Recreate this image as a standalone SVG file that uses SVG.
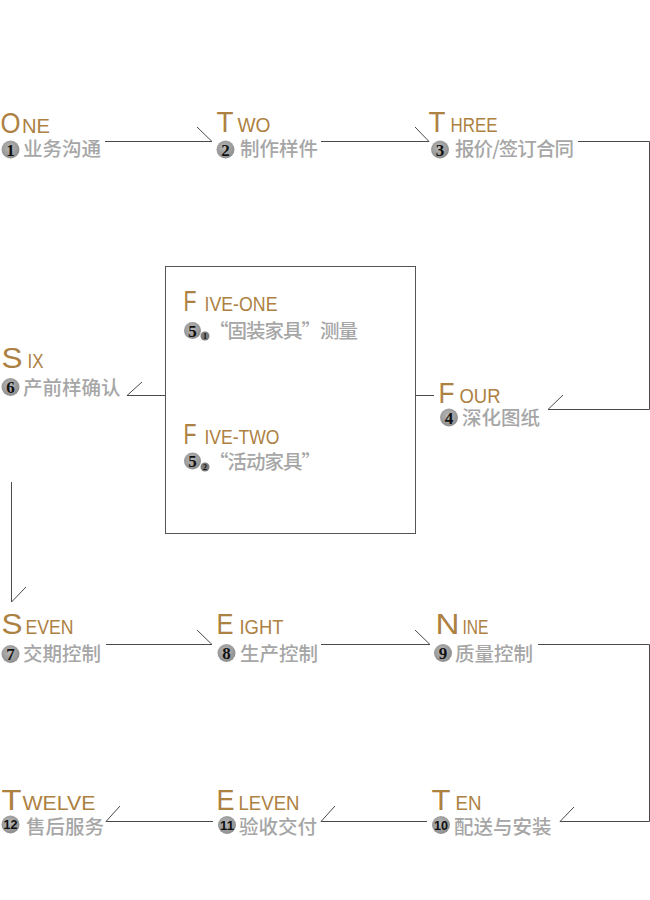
<svg xmlns="http://www.w3.org/2000/svg" width="650" height="900" viewBox="0 0 650 900">
<style>
.big{font-family:"Liberation Sans",Arial,sans-serif;font-size:29px;fill:#ad8142}
.sm{font-family:"Liberation Sans",Arial,sans-serif;font-size:21px;fill:#ad8142}
.cn{font-family:"Noto Sans CJK SC","Noto Sans CJK TC",sans-serif;font-size:19.5px;font-weight:500;fill:#a6a6a6}
.badge{fill:url(#bg)}
.sub{fill:#7c7c7c}
.num{font-family:"Liberation Serif",serif;font-weight:bold;font-size:17px;fill:#111;text-anchor:middle}
.num2{font-family:"Liberation Sans",Arial,sans-serif;font-weight:bold;font-size:12px;fill:#111;text-anchor:middle}
.num3{font-family:"Liberation Serif",serif;font-weight:bold;font-size:8px;fill:#111;text-anchor:middle}
.conn{fill:none;stroke:#4a4a4a;stroke-width:1}
.box{fill:#fff;stroke:#555;stroke-width:1}
</style>
<defs>
<radialGradient id="bg" cx="0.45" cy="0.4" r="0.6">
<stop offset="0" stop-color="#b8b8b8"/>
<stop offset="1" stop-color="#8e8e8e"/>
</radialGradient>
</defs>
<rect width="650" height="900" fill="#fff"/>
<rect class="box" x="165.5" y="266.5" width="250" height="267"/>
<g id="connectors">
<path class="conn" d="M105 141.5 H212 L197 127"/>
<path class="conn" d="M321 141.5 H429 L415 127"/>
<path class="conn" d="M578 141.5 H649.5 V409.5 H548 L563 395"/>
<path class="conn" d="M415 395.5 H434"/>
<path class="conn" d="M165 395.5 H127 L142 382"/>
<path class="conn" d="M11.5 482 V602 L26 587"/>
<path class="conn" d="M106 644.5 H212 L197 630"/>
<path class="conn" d="M321 644.5 H430 L415 630"/>
<path class="conn" d="M538 644.5 H649.5 V821.5 H560 L574 807"/>
<path class="conn" d="M427 821.5 H321 L335 806"/>
<path class="conn" d="M213 821.5 H106 L120 806"/>
</g>
<g id="n1">
<text class="big" x="0.5" y="133" textLength="20" lengthAdjust="spacingAndGlyphs">O</text>
<text class="sm" x="22" y="133" textLength="28" lengthAdjust="spacingAndGlyphs">NE</text>
<circle class="badge" cx="10.5" cy="149.5" r="9"/>
<text class="num" x="10.5" y="155.5">1</text>
<text class="cn" x="23" y="156">业务沟通</text>
</g>
<g id="n2">
<text class="big" x="216.5" y="132" textLength="17" lengthAdjust="spacingAndGlyphs">T</text>
<text class="sm" x="237.5" y="132" textLength="33" lengthAdjust="spacingAndGlyphs">WO</text>
<circle class="badge" cx="225.5" cy="149.5" r="9"/>
<text class="num" x="225.5" y="155.5">2</text>
<text class="cn" x="240" y="156">制作样件</text>
</g>
<g id="n3">
<text class="big" x="428.5" y="132" textLength="17" lengthAdjust="spacingAndGlyphs">T</text>
<text class="sm" x="450.5" y="132" textLength="47" lengthAdjust="spacingAndGlyphs">HREE</text>
<circle class="badge" cx="440" cy="149.5" r="9"/>
<text class="num" x="440" y="155.5">3</text>
<text class="cn" x="455" y="156" textLength="119" lengthAdjust="spacing">报价/签订合同</text>
</g>
<g id="n4">
<text class="big" x="438.5" y="403" textLength="16" lengthAdjust="spacingAndGlyphs">F</text>
<text class="sm" x="459.5" y="403" textLength="41" lengthAdjust="spacingAndGlyphs">OUR</text>
<circle class="badge" cx="449" cy="417.5" r="9"/>
<text class="num" x="449" y="423.5">4</text>
<text class="cn" x="462" y="425">深化图纸</text>
</g>
<g id="n5-1">
<text class="big" x="183.5" y="311" textLength="13" lengthAdjust="spacingAndGlyphs">F</text>
<text class="sm" x="204.5" y="311" textLength="73" lengthAdjust="spacingAndGlyphs">IVE-ONE</text>
<circle class="badge" cx="192.5" cy="330.5" r="8.5"/>
<text class="num" x="192.5" y="336.5">5</text>
<circle class="sub" cx="205" cy="336" r="4.5"/>
<text class="num3" x="205" y="339">1</text>
<text class="cn" x="209" y="338" textLength="149" lengthAdjust="spacing">“固装家具”测量</text>
</g>
<g id="n5-2">
<text class="big" x="183.5" y="444" textLength="13" lengthAdjust="spacingAndGlyphs">F</text>
<text class="sm" x="204.5" y="444" textLength="75" lengthAdjust="spacingAndGlyphs">IVE-TWO</text>
<circle class="badge" cx="192.5" cy="461" r="8.5"/>
<text class="num" x="192.5" y="467">5</text>
<circle class="sub" cx="205" cy="467" r="4.5"/>
<text class="num3" x="205" y="470">2</text>
<text class="cn" x="209" y="469" textLength="112" lengthAdjust="spacing">“活动家具”</text>
</g>
<g id="n6">
<text class="big" x="1.5" y="368" textLength="21" lengthAdjust="spacingAndGlyphs">S</text>
<text class="sm" x="27.5" y="368" textLength="16" lengthAdjust="spacingAndGlyphs">IX</text>
<circle class="badge" cx="10.5" cy="387" r="9"/>
<text class="num" x="10.5" y="393">6</text>
<text class="cn" x="23" y="395">产前样确认</text>
</g>
<g id="n7">
<text class="big" x="1.5" y="634" textLength="21" lengthAdjust="spacingAndGlyphs">S</text>
<text class="sm" x="25.5" y="634" textLength="48" lengthAdjust="spacingAndGlyphs">EVEN</text>
<circle class="badge" cx="10.5" cy="654" r="9"/>
<text class="num" x="10.5" y="660">7</text>
<text class="cn" x="23" y="661">交期控制</text>
</g>
<g id="n8">
<text class="big" x="216.5" y="634" textLength="17" lengthAdjust="spacingAndGlyphs">E</text>
<text class="sm" x="239.5" y="634" textLength="44" lengthAdjust="spacingAndGlyphs">IGHT</text>
<circle class="badge" cx="226.5" cy="653" r="9"/>
<text class="num" x="226.5" y="659">8</text>
<text class="cn" x="240" y="661">生产控制</text>
</g>
<g id="n9">
<text class="big" x="435.5" y="634" textLength="24" lengthAdjust="spacingAndGlyphs">N</text>
<text class="sm" x="462.5" y="634" textLength="26" lengthAdjust="spacingAndGlyphs">INE</text>
<circle class="badge" cx="443" cy="653" r="9"/>
<text class="num" x="443" y="659">9</text>
<text class="cn" x="455" y="661">质量控制</text>
</g>
<g id="n10">
<text class="big" x="431.5" y="810" textLength="19" lengthAdjust="spacingAndGlyphs">T</text>
<text class="sm" x="455.5" y="810" textLength="26" lengthAdjust="spacingAndGlyphs">EN</text>
<circle class="badge" cx="441" cy="825" r="9"/>
<text class="num2" x="441" y="829.5" textLength="14" lengthAdjust="spacingAndGlyphs">10</text>
<text class="cn" x="454" y="833.5">配送与安装</text>
</g>
<g id="n11">
<text class="big" x="216.5" y="810" textLength="18" lengthAdjust="spacingAndGlyphs">E</text>
<text class="sm" x="238.5" y="810" textLength="61" lengthAdjust="spacingAndGlyphs">LEVEN</text>
<circle class="badge" cx="227" cy="825" r="9"/>
<text class="num2" x="227" y="829.5" textLength="14" lengthAdjust="spacingAndGlyphs">11</text>
<text class="cn" x="239" y="833.5">验收交付</text>
</g>
<g id="n12">
<text class="big" x="1.5" y="810" textLength="20" lengthAdjust="spacingAndGlyphs">T</text>
<text class="sm" x="22.5" y="810" textLength="73" lengthAdjust="spacingAndGlyphs">WELVE</text>
<circle class="badge" cx="10.5" cy="824.5" r="9"/>
<text class="num2" x="10.5" y="829" textLength="14" lengthAdjust="spacingAndGlyphs">12</text>
<text class="cn" x="26" y="833.5">售后服务</text>
</g>
</svg>
